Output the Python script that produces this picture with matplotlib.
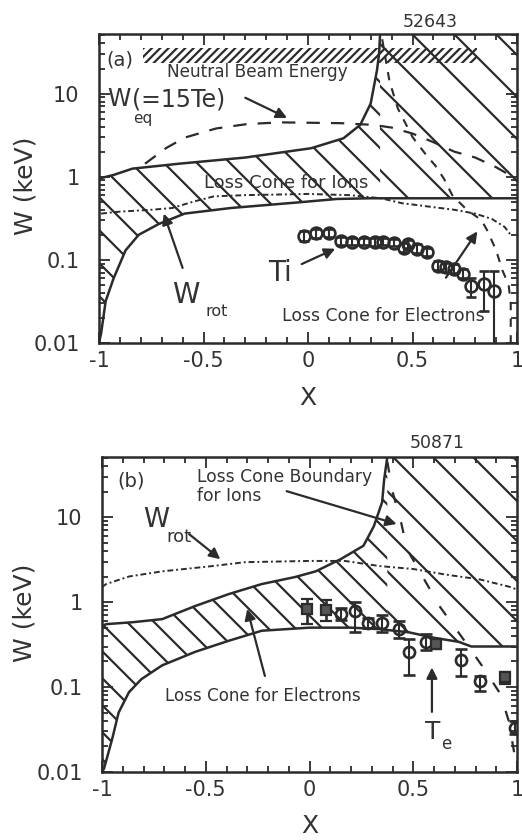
import numpy as np
import matplotlib
matplotlib.use('Agg')
import matplotlib.pyplot as plt
from matplotlib.patches import Polygon
from matplotlib.collections import LineCollection
from matplotlib.ticker import MultipleLocator, LogLocator, NullFormatter

plt.rcParams['font.family'] = ['DejaVu Sans']
plt.rcParams['hatch.linewidth'] = 1.6

C = '#2b2b2b'
T = '#333333'

# ---------------- Panel (a) data: shot 52643 ----------------
a_lo_x = [-1.0, -0.99, -0.968, -0.93, -0.873, -0.81, -0.714, -0.59, -0.37, -0.05, 0.14, 0.3, 1.0]
a_lo_y = [0.01, 0.013, 0.032, 0.06, 0.13, 0.2, 0.27, 0.36, 0.42, 0.49, 0.54, 0.55, 0.55]
a_hi_x = [-1.0, -0.93, -0.84, -0.62, -0.3, 0.015, 0.17, 0.25, 0.3, 0.33, 0.34, 0.345]
a_hi_y = [0.95, 1.05, 1.25, 1.43, 1.7, 2.2, 2.9, 4.2, 7.6, 19, 30, 52]

a_eq_x = [-0.78, -0.68, -0.59, -0.44, -0.29, -0.13, 0.16, 0.31, 0.4, 0.5, 0.6, 0.7, 0.8, 0.9, 0.95]
a_eq_y = [1.43, 2.2, 2.95, 3.8, 4.3, 4.5, 4.4, 4.2, 3.9, 3.3, 2.6, 2.0, 1.7, 1.3, 1.1]

a_rot_x = [-0.99, -0.9, -0.75, -0.65, -0.55, -0.45, -0.3, 0.0, 0.2, 0.35, 0.45, 0.6, 0.7, 0.8, 0.88, 0.94, 0.97]
a_rot_y = [0.36, 0.38, 0.40, 0.42, 0.50, 0.58, 0.60, 0.62, 0.60, 0.55, 0.48, 0.43, 0.40, 0.36, 0.31, 0.25, 0.20]

a_le_x = [0.355, 0.39, 0.43, 0.5, 0.56, 0.61, 0.65, 0.69, 0.76, 0.83, 0.86, 0.9, 0.93, 0.96, 0.97, 0.97]
a_le_y = [45, 14, 6.6, 3.0, 1.9, 1.35, 0.95, 0.6, 0.4, 0.3, 0.22, 0.13, 0.075, 0.05, 0.03, 0.01]

nb_x = [-0.79, 0.81]
nb_lo, nb_hi = 23, 35

ti_x = [-0.02, 0.04, 0.10, 0.16, 0.21, 0.27, 0.32, 0.36, 0.41, 0.46, 0.48, 0.52, 0.57,
        0.62, 0.66, 0.70, 0.74, 0.78, 0.84, 0.89]
ti_y = [0.195, 0.21, 0.21, 0.17, 0.166, 0.166, 0.164, 0.166, 0.16, 0.14, 0.155, 0.135, 0.123,
        0.085, 0.081, 0.078, 0.068, 0.049, 0.051, 0.042]
ti_lo = [0.17, 0.185, 0.19, 0.15, 0.15, 0.15, 0.148, 0.15, 0.145, 0.125, 0.14, 0.12, 0.11,
         0.075, 0.072, 0.07, 0.06, 0.036, 0.024, 0.009]
ti_hi = [0.22, 0.235, 0.235, 0.19, 0.185, 0.185, 0.182, 0.185, 0.18, 0.16, 0.175, 0.155, 0.14,
         0.097, 0.092, 0.088, 0.078, 0.06, 0.073, 0.073]

# ---------------- Panel (b) data: shot 50871 ----------------
b_lo_x = [-1.0, -0.99, -0.95, -0.92, -0.87, -0.81, -0.71, -0.55, -0.39, -0.23, 0.0, 0.2, 0.34,
          0.48, 0.6, 0.72, 0.78, 1.0]
b_lo_y = [0.01, 0.011, 0.025, 0.05, 0.087, 0.124, 0.18, 0.26, 0.35, 0.46, 0.5, 0.5, 0.48,
          0.44, 0.38, 0.34, 0.3, 0.3]
b_hi_x = [-1.0, -0.98, -0.85, -0.71, -0.55, -0.39, -0.23, -0.07, 0.03, 0.15, 0.26, 0.31, 0.35, 0.36, 0.375]
b_hi_y = [0.52, 0.55, 0.58, 0.63, 0.9, 1.24, 1.63, 1.97, 2.3, 3.2, 4.6, 7.8, 15, 28, 51]

b_rot_x = [-1.0, -0.98, -0.87, -0.71, -0.47, -0.31, 0.0, 0.17, 0.34, 0.5, 0.66, 0.82, 0.97, 1.0]
b_rot_y = [1.5, 1.63, 2.0, 2.3, 2.65, 2.95, 3.05, 3.05, 2.65, 2.45, 2.1, 1.85, 1.5, 1.4]

b_le_x = [0.375, 0.40, 0.44, 0.47, 0.55, 0.63, 0.73, 0.83, 0.92, 0.96, 0.99]
b_le_y = [45, 20, 9, 4.2, 1.9, 0.87, 0.4, 0.18, 0.083, 0.04, 0.015]

te_x = [0.15, 0.22, 0.28, 0.35, 0.43, 0.48, 0.56, 0.73, 0.82, 0.99]
te_y = [0.72, 0.78, 0.57, 0.57, 0.48, 0.26, 0.34, 0.21, 0.117, 0.033]
te_lo = [0.62, 0.44, 0.5, 0.45, 0.38, 0.14, 0.27, 0.135, 0.09, 0.028]
te_hi = [0.85, 1.0, 0.65, 0.7, 0.6, 0.37, 0.42, 0.28, 0.135, 0.04]
tsq_x = [-0.01, 0.08, 0.61, 0.94]
tsq_y = [0.83, 0.80, 0.32, 0.13]
tsq_lo = [0.55, 0.6, 0.28, 0.11]
tsq_hi = [1.08, 1.05, 0.37, 0.15]

x_ticks = [-1, -0.5, 0, 0.5, 1]
x_ticklabels = ['-1', '-0.5', '0', '0.5', '1']
y_ticks = [0.01, 0.1, 1, 10]
y_ticklabels = ['0.01', '0.1', '1', '10']

W, H = 522, 840
fig = plt.figure(figsize=(W / 100, H / 100), dpi=100)
axA = fig.add_axes([99 / W, 1 - 343 / H, (517 - 99) / W, (343 - 34) / H])
axB = fig.add_axes([102 / W, 1 - 772 / H, (517 - 102) / W, (772 - 457) / H])


def regions(lo_x, lo_y, hi_x, hi_y, top):
    xs = hi_x[-1]
    lo_at = 10 ** np.interp(xs, lo_x, np.log10(lo_y))
    band = list(zip(hi_x, hi_y)) + [(xs, lo_at)]
    band += [(x, y) for x, y in zip(lo_x[::-1], lo_y[::-1]) if x < xs]
    right = [(xs, top), (1.0, top)]
    right += [(x, y) for x, y in zip(lo_x[::-1], lo_y[::-1]) if x > xs]
    right += [(xs, lo_at)]
    return band, right


def hatch(ax, verts, spacing, c0, lw=1.6):
    poly = Polygon(verts, closed=True, transform=ax.transData,
                   facecolor='none', edgecolor='none')
    ax.add_patch(poly)
    bb = ax.get_position()
    Wp, Hp = bb.width * W, bb.height * H
    k0 = -int((c0) // spacing) - 1
    segs = []
    c = c0 + k0 * spacing
    while c < Wp + Hp + spacing:
        segs.append([((c - Hp) / Wp, 1.0), (c / Wp, 0.0)])
        c += spacing
    lc = LineCollection(segs, colors=C, linewidths=lw, transform=ax.transAxes)
    lc.set_clip_path(poly)
    ax.add_collection(lc)


def style(ax, top):
    ax.set_xlim(-1, 1)
    ax.set_yscale('log')
    ax.set_ylim(0.01, top)
    ax.set_xticks(x_ticks, labels=x_ticklabels)
    ax.set_yticks(y_ticks, labels=y_ticklabels)
    ax.xaxis.set_minor_locator(MultipleLocator(0.1))
    ax.yaxis.set_minor_locator(LogLocator(base=10, subs=np.arange(2, 10)))
    ax.yaxis.set_minor_formatter(NullFormatter())
    ax.tick_params(which='both', direction='in', top=True, right=True, colors=C,
                   labelcolor=T, width=1.3)
    ax.tick_params(which='major', length=8, labelsize=15)
    ax.tick_params(axis='x', which='major', pad=6)
    ax.tick_params(axis='y', which='major', pad=14)
    ax.tick_params(which='minor', length=4.5)
    for s in ax.spines.values():
        s.set_linewidth(1.8)
        s.set_color(C)
    ax.set_xlabel('X', fontsize=18, color=T)
    ax.set_ylabel('W (keV)', fontsize=18, color=T)
    ax.xaxis.label.set_va('baseline')


arw = dict(arrowstyle='-|>', color=C, lw=1.6, mutation_scale=16, shrinkA=0, shrinkB=0)


def txt(ax, x, y, s, size, ha='left'):
    ax.text(x, y, s, fontsize=size, color=T, ha=ha, va='baseline')


# ================= Panel (a) =================
ax = axA
topA = 52
band, right = regions(a_lo_x, a_lo_y, a_hi_x, a_hi_y, topA)
hatch(ax, band, 33, 179)
hatch(ax, right, 42, 622)
ax.plot(a_lo_x, a_lo_y, color=C, lw=1.8)
ax.plot(a_hi_x, a_hi_y, color=C, lw=1.8)
ax.fill_between(nb_x, nb_lo, nb_hi, facecolor='none', edgecolor=C, hatch='////', linewidth=0)
ax.plot(a_eq_x, a_eq_y, color=C, lw=1.6, ls=(0, (6, 5)))
ax.plot(a_rot_x, a_rot_y, color=C, lw=1.4, ls=(0, (3, 1.5, 1, 1.5)))
ax.plot(a_le_x, a_le_y, color=C, lw=1.5, ls=(0, (4, 4)))
ti_y_arr = np.array(ti_y)
ax.errorbar(ti_x, ti_y, yerr=[ti_y_arr - np.array(ti_lo), np.array(ti_hi) - ti_y_arr],
            fmt='o', ms=8.5, mfc='none', mec=C, mew=1.9, ecolor=C, elinewidth=1.5,
            capsize=3.5, capthick=1.5)

txt(ax, -0.965, 21.7, '(a)', 14)
txt(ax, -0.675, 15.6, 'Neutral Beam Energy', 12.2)
txt(ax, -0.962, 7.0, 'W', 17)
txt(ax, -0.835, 4.4, 'eq', 11)
txt(ax, -0.842, 7.0, '(=15Te)', 17)
ax.annotate('', xy=(-0.10, 5.1), xytext=(-0.30, 8.9), arrowprops=arw)
txt(ax, -0.50, 0.74, 'Loss Cone for Ions', 13)
txt(ax, -0.65, 0.030, 'W', 20)
txt(ax, -0.49, 0.0211, 'rot', 11.5)
ax.annotate('', xy=(-0.69, 0.36), xytext=(-0.60, 0.08), arrowprops=arw)
txt(ax, -0.19, 0.056, 'Ti', 20)
ax.annotate('', xy=(0.13, 0.136), xytext=(-0.03, 0.089), arrowprops=arw)
txt(ax, -0.125, 0.0184, 'Loss Cone for Electrons', 12.4)
ax.annotate('', xy=(0.81, 0.22), xytext=(0.66, 0.061), arrowprops=arw)
style(ax, topA)
ax.xaxis.set_label_coords(0.5, -0.2006)
ax.yaxis.set_label_coords(-0.146, 0.51)

# ================= Panel (b) =================
ax = axB
topB = 51
band, right = regions(b_lo_x, b_lo_y, b_hi_x, b_hi_y, topB)
hatch(ax, band, 27, 148)
hatch(ax, right, 40, 646)
ax.plot(b_lo_x, b_lo_y, color=C, lw=1.8)
ax.plot(b_hi_x, b_hi_y, color=C, lw=1.8)
ax.plot(b_rot_x, b_rot_y, color=C, lw=1.4, ls=(0, (3, 1.5, 1, 1.5)))
ax.plot(b_le_x, b_le_y, color=C, lw=1.6, ls=(0, (5, 9)))
te_y_arr = np.array(te_y)
ax.errorbar(te_x, te_y, yerr=[te_y_arr - np.array(te_lo), np.array(te_hi) - te_y_arr],
            fmt='o', ms=8, mfc='none', mec=C, mew=1.9, ecolor=C, elinewidth=1.5,
            capsize=4, capthick=1.5)
tsq_y_arr = np.array(tsq_y)
ax.errorbar(tsq_x, tsq_y, yerr=[tsq_y_arr - np.array(tsq_lo), np.array(tsq_hi) - tsq_y_arr],
            fmt='s', ms=7, mfc='#555555', mec=C, mew=1.6, ecolor=C, elinewidth=1.9,
            capsize=4, capthick=1.5)

txt(ax, -0.928, 23, '(b)', 14)
txt(ax, -0.542, 25.8, 'Loss Cone Boundary', 12.3)
txt(ax, -0.542, 15.4, 'for Ions', 12.3)
ax.annotate('', xy=(0.42, 8.3), xytext=(-0.11, 20.2), arrowprops=arw)
txt(ax, -0.80, 7.6, 'W', 19)
txt(ax, -0.69, 5.1, 'rot', 13)
ax.annotate('', xy=(-0.43, 3.2), xytext=(-0.58, 6.3), arrowprops=arw)
txt(ax, -0.696, 0.0684, 'Loss Cone for Electrons', 12.1)
ax.annotate('', xy=(-0.30, 0.83), xytext=(-0.215, 0.135), arrowprops=arw)
txt(ax, 0.557, 0.0245, 'T', 18)
txt(ax, 0.633, 0.0187, 'e', 12)
ax.annotate('', xy=(0.59, 0.17), xytext=(0.59, 0.051), arrowprops=arw)
style(ax, topB)
ax.xaxis.set_label_coords(0.5, -0.1937)
ax.yaxis.set_label_coords(-0.157, 0.505)

fig.text(430 / W, 1 - 27 / H, '52643', fontsize=12.5, color=T, ha='center', va='baseline')
fig.text(437 / W, 1 - 448 / H, '50871', fontsize=12.5, color=T, ha='center', va='baseline')

fig.savefig('out.png', dpi=100, facecolor='white')
